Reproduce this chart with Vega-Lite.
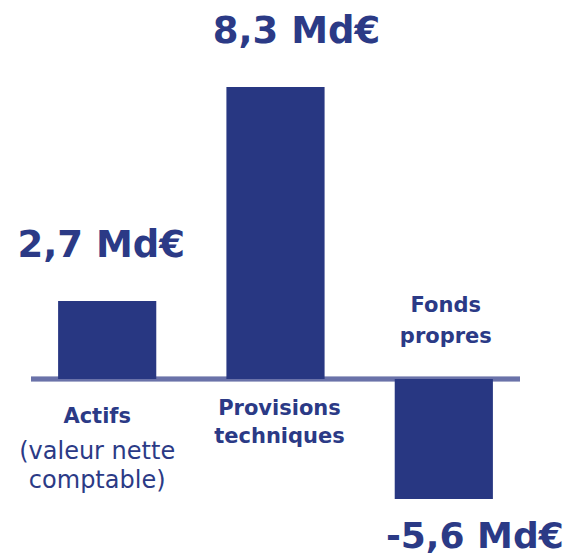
{
  "$schema": "https://vega.github.io/schema/vega-lite/v6.json",
  "width": 489,
  "height": 555,
  "autosize": {"type": "none"},
  "padding": {"left": 31, "right": 58, "top": 0, "bottom": 0},
  "config": {"view": {"stroke": null}, "text": {"font": "DejaVu Sans", "color": "#2b3a86"}},
  "data": {
    "values": [
      {"cat": "Actifs", "valeur": 2.7, "hauteur": 2.22, "etiquette": "2,7 Md€"},
      {"cat": "Provisions techniques", "valeur": 8.3, "hauteur": 8.3, "etiquette": "8,3 Md€"},
      {"cat": "Fonds propres", "valeur": -5.6, "hauteur": -3.41, "etiquette": "-5,6 Md€"}
    ]
  },
  "encoding": {
    "x": {"field": "cat", "type": "nominal", "sort": null, "axis": null,
          "scale": {"paddingInner": 0.4167, "paddingOuter": 0.161}}
  },
  "layer": [
    {"mark": {"type": "rule", "color": "#6a72a9", "strokeWidth": 4.5},
     "encoding": {"x": null, "y": {"datum": 0, "type": "quantitative", "scale": {"domain": [-5, 10.77], "nice": false, "zero": false}, "axis": null}}},
    {"mark": {"type": "bar", "color": "#283782"},
     "encoding": {"y": {"field": "hauteur", "type": "quantitative", "scale": {"domain": [-5, 10.77], "nice": false, "zero": false}, "axis": null}}},
    {"transform": [{"filter": "datum.cat == 'Actifs'"}],
     "mark": {"type": "text", "fontSize": 37, "fontWeight": "bold", "baseline": "alphabetic", "dy": -44, "dx": -6},
     "encoding": {"y": {"field": "hauteur", "type": "quantitative"}, "text": {"field": "etiquette"}}},
    {"transform": [{"filter": "datum.cat == 'Provisions techniques'"}],
     "mark": {"type": "text", "fontSize": 37, "fontWeight": "bold", "baseline": "alphabetic", "dy": -44, "dx": 21},
     "encoding": {"y": {"field": "hauteur", "type": "quantitative"}, "text": {"field": "etiquette"}}},
    {"transform": [{"filter": "datum.cat == 'Fonds propres'"}],
     "mark": {"type": "text", "fontSize": 36, "fontWeight": "bold", "baseline": "alphabetic", "dy": 49, "dx": 31},
     "encoding": {"y": {"field": "hauteur", "type": "quantitative"}, "text": {"field": "etiquette"}}},
    {"transform": [{"filter": "datum.cat == 'Actifs'"}],
     "mark": {"type": "text", "fontSize": 21, "fontWeight": "bold", "baseline": "alphabetic", "dy": 44, "dx": -10},
     "encoding": {"y": {"datum": 0, "type": "quantitative"}, "text": {"value": "Actifs"}}},
    {"transform": [{"filter": "datum.cat == 'Actifs'"}],
     "mark": {"type": "text", "fontSize": 24, "baseline": "alphabetic", "dy": 80, "dx": -10, "lineHeight": 29},
     "encoding": {"y": {"datum": 0, "type": "quantitative"}, "text": {"value": ["(valeur nette", "comptable)"]}}},
    {"transform": [{"filter": "datum.cat == 'Provisions techniques'"}],
     "mark": {"type": "text", "fontSize": 21, "fontWeight": "bold", "baseline": "alphabetic", "dy": 36, "dx": 4, "lineHeight": 28},
     "encoding": {"y": {"datum": 0, "type": "quantitative"}, "text": {"value": ["Provisions", "techniques"]}}},
    {"transform": [{"filter": "datum.cat == 'Fonds propres'"}],
     "mark": {"type": "text", "fontSize": 21, "fontWeight": "bold", "baseline": "alphabetic", "dy": -67, "dx": 2, "lineHeight": 31},
     "encoding": {"y": {"datum": 0, "type": "quantitative"}, "text": {"value": ["Fonds", "propres"]}}}
  ]
}
